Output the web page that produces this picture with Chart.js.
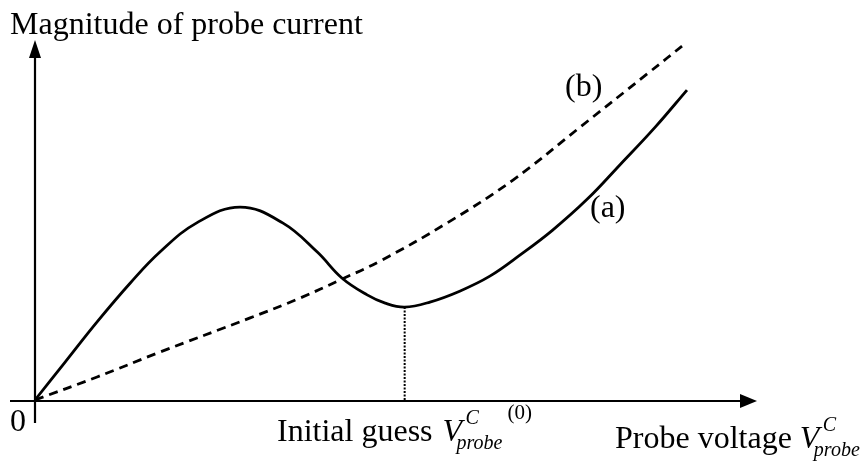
<!DOCTYPE html>
<html>
<head>
<meta charset="utf-8">
<script src="https://cdn.jsdelivr.net/npm/chart.js@4/dist/chart.umd.min.js"></script>
<style>
  html, body { margin: 0; padding: 0; background: #fff; }
  #wrap { width: 866px; height: 462px; position: relative; }
</style>
</head>
<body>
<div id="wrap"><canvas id="c"></canvas></div>
<script>
// Curve (a): probe current magnitude vs probe voltage (arbitrary units)
const voltageA = [0, 4.2, 8.6, 13.2, 17.3, 22.4, 28.4, 34.3, 39.1, 42.5, 46.0, 48.5, 51.2, 54.7, 58.9, 63.0, 67.2, 71.7, 76.5, 81.0, 85.9, 90.3];
const currentA = [0, 10.6, 21.7, 32.5, 41.1, 49.2, 53.6, 49.2, 41.1, 33.9, 29.2, 26.9, 25.8, 27.2, 30.3, 34.4, 40.3, 47.2, 55.8, 65.3, 75.8, 86.1];

// Curve (b): dashed characteristic
const voltageB = [0, 8.6, 17.3, 29.8, 36.7, 42.2, 47.8, 57.1, 66.2, 75.5, 84.8, 90.3];
const currentB = [0, 6.4, 13.3, 22.8, 28.3, 33.3, 38.6, 49.2, 61.1, 75.8, 90.6, 99.4];

// Local minimum of (a) taken as the initial guess
const guessIndex = 12;

// Axis extents (arrow tips)
const axisMax = { x: 100, y: 100 };

const pts = (xs, ys) => xs.map((x, i) => ({ x: x, y: ys[i] }));

const SERIF = '"Liberation Serif", "Times New Roman", serif';

// Draws V with superscript C and subscript "probe"; returns the right edge
function drawVprobe(ctx, x, base) {
  ctx.font = 'italic 32px ' + SERIF;
  ctx.fillText('V', x, base);
  ctx.font = 'italic 20px ' + SERIF;
  ctx.fillText('C', x + 23, base - 17);
  ctx.fillText('probe', x + 14, base + 8);
  return x + 14 + ctx.measureText('probe').width;
}

function arrowHead(ctx, tipX, tipY, dir, len, half) {
  ctx.beginPath();
  if (dir === 'up') {
    ctx.moveTo(tipX, tipY);
    ctx.lineTo(tipX - half, tipY + len);
    ctx.lineTo(tipX + half, tipY + len);
  } else {
    ctx.moveTo(tipX, tipY);
    ctx.lineTo(tipX - len, tipY - half);
    ctx.lineTo(tipX - len, tipY + half);
  }
  ctx.closePath();
  ctx.fill();
}

const decorations = {
  id: 'decorations',
  beforeDatasetsDraw(chart) {
    const { ctx, scales } = chart;
    const x0 = scales.x.getPixelForValue(0);
    const y0 = scales.y.getPixelForValue(0);
    const xEnd = scales.x.getPixelForValue(axisMax.x);
    const yEnd = scales.y.getPixelForValue(axisMax.y);
    ctx.save();
    ctx.strokeStyle = '#000';
    ctx.fillStyle = '#000';
    ctx.lineWidth = 2.2;
    // vertical axis
    ctx.beginPath();
    ctx.moveTo(x0, y0 + 23);
    ctx.lineTo(x0, yEnd + 16);
    ctx.stroke();
    arrowHead(ctx, x0, yEnd, 'up', 18, 6);
    // horizontal axis
    ctx.beginPath();
    ctx.moveTo(x0 - 25, y0 + 1);
    ctx.lineTo(xEnd - 15, y0 + 1);
    ctx.stroke();
    arrowHead(ctx, xEnd, y0 + 1, 'right', 17, 7);
    ctx.restore();
  },
  afterDraw(chart) {
    const { ctx } = chart;
    ctx.save();
    ctx.fillStyle = '#000';
    ctx.textBaseline = 'alphabetic';
    ctx.textAlign = 'left';
    ctx.font = '32px ' + SERIF;
    ctx.fillText('Magnitude of probe current', 10, 34);
    ctx.fillText('(b)', 565, 96);
    ctx.fillText('(a)', 590, 217);
    ctx.fillText('0', 10, 431);

    ctx.font = '32px ' + SERIF;
    ctx.fillText('Initial guess', 277, 441);
    let vx = 277 + ctx.measureText('Initial guess').width + 10;
    const endA = drawVprobe(ctx, vx, 441);
    ctx.font = '21px ' + SERIF;
    ctx.fillText('(0)', endA + 5, 419);

    ctx.font = '32px ' + SERIF;
    ctx.fillText('Probe voltage', 615, 448);
    vx = 615 + ctx.measureText('Probe voltage').width + 8;
    drawVprobe(ctx, vx, 448);
    ctx.restore();
  }
};

new Chart(document.getElementById('c'), {
  type: 'line',
  data: {
    datasets: [
      {
        label: '(a)',
        data: pts(voltageA, currentA),
        borderColor: '#000',
        borderWidth: 2.8,
        pointRadius: 0,
        tension: 0.4,
        fill: false,
        clip: false
      },
      {
        label: '(b)',
        data: pts(voltageB, currentB),
        borderColor: '#000',
        borderWidth: 2.8,
        borderDash: [9, 6],
        pointRadius: 0,
        tension: 0.4,
        fill: false,
        clip: false
      },
      {
        label: 'initial guess',
        data: [
          { x: voltageA[guessIndex], y: 0 },
          { x: voltageA[guessIndex], y: currentA[guessIndex] }
        ],
        borderColor: '#000',
        borderWidth: 2,
        borderDash: [2, 1.5],
        pointRadius: 0,
        fill: false,
        clip: false
      }
    ]
  },
  options: {
    responsive: true,
    maintainAspectRatio: false,
    animation: false,
    layout: { padding: { left: 35, right: 109, top: 40, bottom: 62 } },
    plugins: { legend: { display: false }, tooltip: { enabled: false } },
    scales: {
      x: { type: 'linear', min: 0, max: axisMax.x, display: false },
      y: { type: 'linear', min: 0, max: axisMax.y, display: false }
    }
  },
  plugins: [decorations]
});
</script>
</body>
</html>
